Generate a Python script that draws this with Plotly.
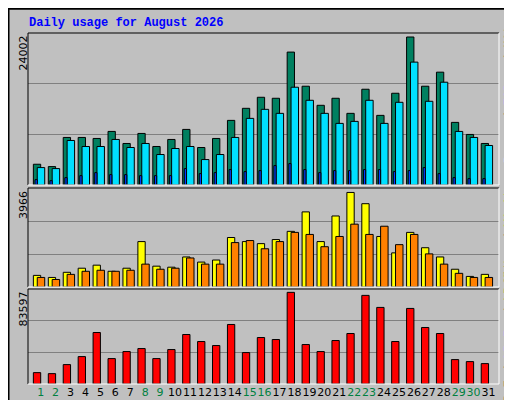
import plotly.graph_objects as go

days = list(range(1, 32))
day_labels = [str(d) for d in days]
weekend = [1, 2, 8, 9, 15, 16, 22, 23, 29, 30]

hits = [3367, 2987, 7711, 7711, 7548, 8688, 6733, 8362, 6245, 7385, 9014, 6082, 7548, 10480, 12435, 14227,
        14064, 21557, 16019, 12923, 14064, 11620, 15530, 11294, 14878, 24002, 16019, 18299, 10154, 8199, 6733]
files = [2824, 2661, 7222, 6245, 6245, 7385, 6082, 6733, 4941, 5919, 6245, 4127, 4941, 7711, 10806, 12272,
         11620, 15856, 13738, 11620, 9991, 10317, 13738, 9991, 13412, 19928, 13575, 16670, 8688, 7711, 6407]
pages = [869, 706, 1195, 1520, 2009, 1683, 1683, 1520, 1520, 1520, 2661, 1846, 2009, 2498, 2172, 2335,
         3149, 3475, 2498, 2009, 2335, 2335, 2498, 2498, 2172, 2335, 2824, 1846, 1195, 1032, 1032]
visits = [487, 401, 616, 788, 916, 659, 788, 1905, 874, 831, 1260, 1045, 1131, 2076, 1905, 1819,
          1990, 2334, 3150, 1905, 2979, 3966, 3494, 2119, 1432, 2291, 1647, 1260, 745, 444, 530]
sites = [401, 315, 530, 659, 702, 659, 702, 959, 745, 788, 1217, 959, 959, 1862, 1948, 1604,
         1905, 2291, 2205, 1690, 2119, 2635, 2205, 2549, 1776, 2205, 1389, 959, 573, 401, 401]
kbytes = [10370, 9455, 17690, 25010, 46970, 23180, 29585, 32330, 23180, 31415, 45140, 38735, 35075, 54290,
          28670, 42395, 40565, 83597, 35990, 29585, 39650, 46055, 80825, 69845, 38735, 68930, 51545, 46055,
          22265, 20435, 18605]

W, H = 512, 400
px = lambda x: x / W
py = lambda y: 1 - y / H

panels = {"y": (25, 177), "y2": (180, 279), "y3": (281, 376)}
xdom = [px(20), px(491)]

fig = go.Figure()
line = dict(color="black", width=1)
def bar(y, xa, ya, color, off, w, name):
    fig.add_trace(go.Bar(x=days, y=y, xaxis=xa, yaxis=ya, marker=dict(color=color, line=line),
                         offset=off, width=w, name=name, showlegend=False))

bar(hits, "x", "y", "#008060", -0.49, 0.49, "Hits")
bar(files, "x", "y", "#00E0FF", -0.23, 0.5, "Files")
bar(pages, "x", "y", "#0040FF", -0.38, 0.15, "Pages")
bar(visits, "x2", "y2", "#FFFF00", -0.49, 0.49, "Visits")
bar(sites, "x2", "y2", "#FF8000", -0.23, 0.5, "Sites")
bar(kbytes, "x3", "y3", "#FF0000", -0.49, 0.49, "kB F")

ticktext = [f'<span style="color:{"#008040" if d in weekend else "black"}">{l}</span>'
            for d, l in zip(days, day_labels)]

ranges = {"y": max(hits) * 152 / 148, "y2": max(visits) * 290 / 277, "y3": max(kbytes) * 284 / 274}
layout = dict(width=W, height=H, margin=dict(l=0, r=0, t=0, b=0), paper_bgcolor="#C0C0C0",
              plot_bgcolor="#C0C0C0", barmode="overlay", font=dict(family="DejaVu Sans", size=11))
for i, key in enumerate(["y", "y2", "y3"]):
    top, bot = panels[key]
    xa = "xaxis" + ("" if i == 0 else str(i + 1))
    ya = "yaxis" + ("" if i == 0 else str(i + 1))
    r = ranges[key]
    layout[ya] = dict(domain=[py(bot), py(top)], range=[0, r], tickvals=[r / 3, 2 * r / 3],
                      showticklabels=False, gridcolor="#808080", gridwidth=1, zeroline=False, fixedrange=True)
    layout[xa] = dict(domain=xdom, range=[0.15, 31.7], anchor=key, showgrid=False, zeroline=False,
                      tickvals=days, ticktext=ticktext, showticklabels=(i == 2), ticks="",
                      tickangle=0, tickfont=dict(size=11, color="black"))
fig.update_layout(**layout)

# sunken panel frames
for top, bot in panels.values():
    fig.add_shape(type="line", xref="paper", yref="paper", x0=xdom[0], x1=xdom[1], y0=py(top), y1=py(top), line=line)
    fig.add_shape(type="line", xref="paper", yref="paper", x0=xdom[0], x1=xdom[0], y0=py(top), y1=py(bot), line=line)
    fig.add_shape(type="line", xref="paper", yref="paper", x0=xdom[0], x1=xdom[1], y0=py(bot), y1=py(bot),
                  line=dict(color="white", width=1))
    fig.add_shape(type="line", xref="paper", yref="paper", x0=xdom[1], x1=xdom[1], y0=py(top), y1=py(bot),
                  line=dict(color="white", width=1))
fig.add_shape(type="rect", xref="paper", yref="paper", x0=0.001, x1=0.999, y0=0.002, y1=0.998,
              line=dict(color="black", width=2))

fig.add_annotation(x=px(19), y=py(15), xref="paper", yref="paper", xanchor="left", yanchor="middle",
                   text="<b>Daily usage for August 2026</b>", showarrow=False,
                   font=dict(family="Liberation Mono", size=12, color="#0000FF"))

for key, val in [("y", max(hits)), ("y2", max(visits)), ("y3", max(kbytes))]:
    top = panels[key][0]
    fig.add_annotation(x=px(15), y=py(top + 1), xref="paper", yref="paper", xanchor="center", yanchor="top",
                       text=str(val), textangle=-90, showarrow=False, font=dict(size=11, color="black"))

mono = dict(family="Liberation Mono", size=12)
legends = [
    (83, '<b><span style="color:#00E0FF">Pages</span> / <span style="color:#0080FF">Files</span>'
         ' / <span style="color:#008040">Hits</span></b>'),
    (226, '<b><span style="color:#FF8000">Sites</span> / <span style="color:#FFFF00">Visits</span></b>'),
    (326, '<b><span style="color:#FF0000">kB F</span> / <span style="color:#0080FF">kB In</span>'
          ' / <span style="color:#00C000">kB Out</span></b>'),
]
for yc, txt in legends:
    fig.add_annotation(x=px(493), y=py(yc), xref="paper", yref="paper", xanchor="left", yanchor="middle",
                       text=txt, textangle=-90, showarrow=False, font=dict(color="black", **mono))

fig.write_html("out.html")
